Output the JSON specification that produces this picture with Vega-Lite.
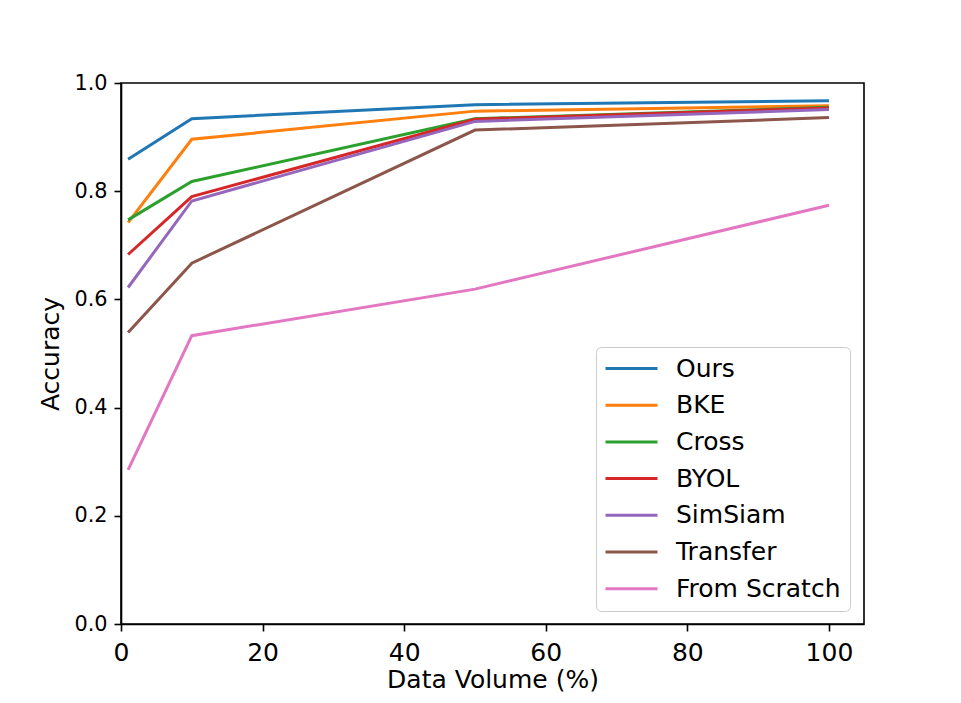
{
  "$schema": "https://vega.github.io/schema/vega-lite/v6.json",
  "width": 743,
  "height": 541,
  "autosize": {"type": "none"},
  "padding": {"left": 121, "top": 83, "right": 97, "bottom": 79},
  "background": "white",
  "config": {
    "font": "DejaVu Sans",
    "view": {"stroke": "black", "strokeWidth": 1.6},
    "axis": {
      "grid": false,
      "domainColor": "black",
      "domainWidth": 1.6,
      "tickColor": "black",
      "tickWidth": 1.6,
      "tickSize": 7,
      "labelColor": "black",
      "titleColor": "black",
      "labelFont": "DejaVu Sans",
      "titleFont": "DejaVu Sans",
      "titleFontWeight": "normal",
      "titleFontSize": 25
    }
  },
  "data": {
    "values": [
      {"method": "Ours", "volume": 1, "acc": 0.859},
      {"method": "Ours", "volume": 10, "acc": 0.934},
      {"method": "Ours", "volume": 50, "acc": 0.960},
      {"method": "Ours", "volume": 100, "acc": 0.967},
      {"method": "BKE", "volume": 1, "acc": 0.742},
      {"method": "BKE", "volume": 10, "acc": 0.896},
      {"method": "BKE", "volume": 50, "acc": 0.948},
      {"method": "BKE", "volume": 100, "acc": 0.958},
      {"method": "Cross", "volume": 1, "acc": 0.747},
      {"method": "Cross", "volume": 10, "acc": 0.818},
      {"method": "Cross", "volume": 50, "acc": 0.934},
      {"method": "Cross", "volume": 100, "acc": 0.955},
      {"method": "BYOL", "volume": 1, "acc": 0.683},
      {"method": "BYOL", "volume": 10, "acc": 0.790},
      {"method": "BYOL", "volume": 50, "acc": 0.933},
      {"method": "BYOL", "volume": 100, "acc": 0.954},
      {"method": "SimSiam", "volume": 1, "acc": 0.622},
      {"method": "SimSiam", "volume": 10, "acc": 0.782},
      {"method": "SimSiam", "volume": 50, "acc": 0.929},
      {"method": "SimSiam", "volume": 100, "acc": 0.951},
      {"method": "Transfer", "volume": 1, "acc": 0.539},
      {"method": "Transfer", "volume": 10, "acc": 0.667},
      {"method": "Transfer", "volume": 50, "acc": 0.913},
      {"method": "Transfer", "volume": 100, "acc": 0.936},
      {"method": "From Scratch", "volume": 1, "acc": 0.285},
      {"method": "From Scratch", "volume": 10, "acc": 0.533},
      {"method": "From Scratch", "volume": 50, "acc": 0.619},
      {"method": "From Scratch", "volume": 100, "acc": 0.774}
    ]
  },
  "mark": {"type": "line", "strokeWidth": 3, "clip": true},
  "encoding": {
    "x": {
      "field": "volume",
      "type": "quantitative",
      "title": "Data Volume (%)",
      "scale": {"domain": [0, 104.95], "nice": false, "zero": false},
      "axis": {"values": [0, 20, 40, 60, 80, 100], "labelFontSize": 25, "labelPadding": 9, "titlePadding": 2, "labelFlush": false}
    },
    "y": {
      "field": "acc",
      "type": "quantitative",
      "title": "Accuracy",
      "scale": {"domain": [0, 1], "nice": false},
      "axis": {"values": [0, 0.2, 0.4, 0.6, 0.8, 1.0], "format": ".1f", "labelFontSize": 20.8, "labelPadding": 7, "titlePadding": 10, "labelFlush": false}
    },
    "color": {
      "field": "method",
      "type": "nominal",
      "sort": ["Ours", "BKE", "Cross", "BYOL", "SimSiam", "Transfer", "From Scratch"],
      "scale": {
        "domain": ["Ours", "BKE", "Cross", "BYOL", "SimSiam", "Transfer", "From Scratch"],
        "range": ["#1f77b4", "#ff7f0e", "#2ca02c", "#d62728", "#9467bd", "#8c564b", "#e377c2"]
      },
      "legend": {
        "title": null,
        "orient": "none",
        "legendX": 475,
        "legendY": 264,
        "symbolType": "M-2.6,0H2.6",
        "symbolSize": 400,
        "symbolStrokeWidth": 3,
        "symbolOffset": 14,
        "labelFontSize": 25,
        "labelColor": "black",
        "labelOffset": 32,
        "labelLimit": 400,
        "rowPadding": 10.7,
        "padding": 9,
        "strokeColor": "#cccccc",
        "cornerRadius": 5,
        "fillColor": "white"
      }
    }
  }
}
